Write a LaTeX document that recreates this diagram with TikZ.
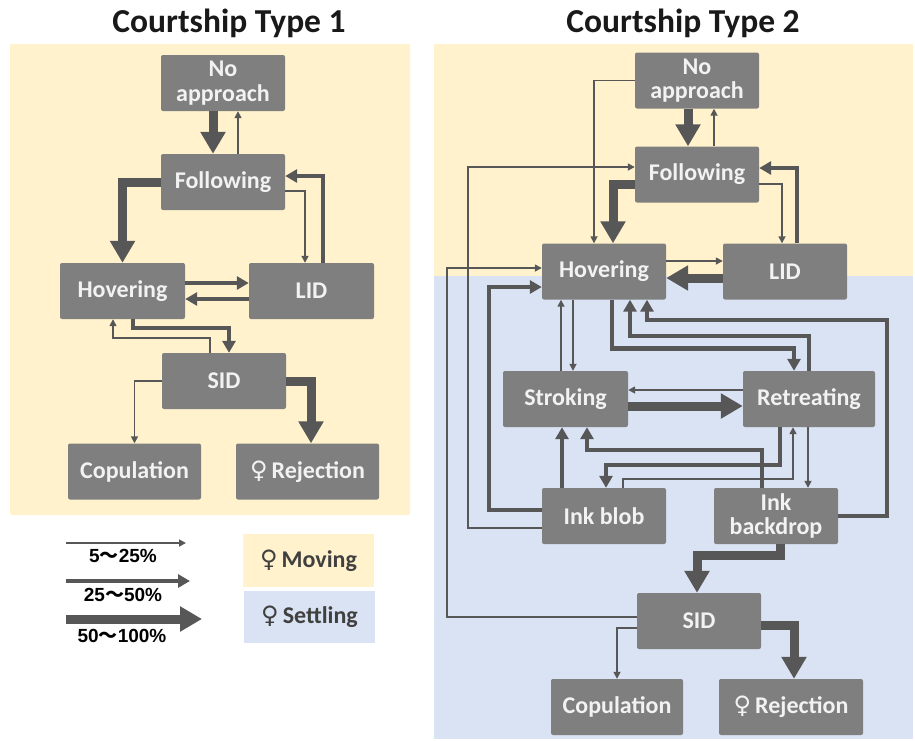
\documentclass[tikz,border=0pt]{standalone}
\usepackage{fontspec}
\setmainfont{Carlito}
\newfontfamily\venusfont{DejaVu Sans}
\newfontfamily\numfont{Liberation Sans}
\newfontfamily\cjkfont{Noto Sans CJK SC}
\usetikzlibrary{arrows.meta,positioning}
\definecolor{boxgray}{HTML}{7F7F7F}
\definecolor{boxtext}{HTML}{F2F2F2}
\definecolor{arrgray}{HTML}{575757}
\definecolor{movebg}{HTML}{FFF2CC}
\definecolor{settlebg}{HTML}{DAE3F3}
\newcommand{\fem}{{\venusfont\mdseries\char"2640}}

\begin{document}
\begin{tikzpicture}[x=1pt,y=-1pt,
    beh/.style={rectangle,rounded corners=2pt,fill=boxgray,text=boxtext,
      minimum width=124pt,minimum height=56pt,inner sep=0pt,align=center,
      font=\fontsize{24}{24.5}\selectfont\bfseries},
    thinarr/.style={draw=arrgray,line width=1.6pt,-{Triangle[width=7pt,length=7pt]}},
    medarr/.style={draw=arrgray,line width=4.5pt,-{Triangle[width=13pt,length=12pt]}},
    thickarr/.style={draw=arrgray,line width=9pt,-{Triangle[width=24pt,length=22pt]}},
    title/.style={anchor=base,text=black!90,font=\fontsize{33.5}{33.5}\selectfont\bfseries},
    keytxt/.style={text=black,font=\numfont\fontsize{19}{19}\selectfont\bfseries},
    keybox/.style={rectangle,minimum width=131pt,minimum height=53pt,inner sep=0pt,
      text=black!75,font=\fontsize{24}{24}\selectfont\bfseries}]

    \fill[white] (0,0) rectangle (915,740);
    \useasboundingbox (0,0) rectangle (915,740);

    \node[title] (tA) at (229,32) {Courtship Type 1};
    \node[title] (tB) at (683,32) {Courtship Type 2};

    \fill[movebg,rounded corners=2pt] (10,44) rectangle (410,515);
    \fill[movebg] (434,44) rectangle (913,276);
    \fill[settlebg] (434,276) rectangle (913,739);

    \node[beh] (noappA) at (223,83) {No\\approach};
    \node[beh] (follA) at (223,182) {Following};
    \node[beh,minimum width=125pt] (hovA) at (122.5,291) {Hovering};
    \node[beh,minimum width=125pt] (lidA) at (311.5,291) {LID};
    \node[beh] (sidA) at (224,381) {SID};
    \node[beh,minimum width=133pt] (copA) at (134.5,471.5) {Copulation};
    \node[beh,minimum width=143pt] (rejA) at (307.5,471.5) {\fem\,Rejection};

    \draw[thickarr] ([xshift=-10pt]noappA.south) -- ([xshift=-10pt]follA.north);
    \draw[thinarr] ([xshift=15pt]follA.north) -- ([xshift=15pt]noappA.south);
    \draw[thickarr] (follA.west) -| (hovA.north);
    \draw[thinarr] ([yshift=-9pt]follA.east) -| ([xshift=-6.5pt]lidA.north);
    \draw[medarr] ([xshift=11.5pt]lidA.north) |- ([yshift=6pt]follA.east);
    \draw[medarr] ([yshift=8pt]hovA.east) -- ([yshift=8pt]lidA.west);
    \draw[medarr] ([yshift=-8pt]lidA.west) -- ([yshift=-8pt]hovA.east);
    \draw[medarr] ([xshift=10.5pt]hovA.south) -- ++(0,9) -| ([xshift=5pt]sidA.north);
    \draw[thinarr] ([xshift=-14pt]sidA.north) -- ++(0,-15) -| ([xshift=-9.5pt]hovA.south);
    \draw[thinarr] (sidA.west) -| (copA.north);
    \draw[thickarr] (sidA.east) -| ([xshift=3.5pt]rejA.north);

    \node[beh] (noappB) at (697,80.5) {No\\approach};
    \node[beh] (follB) at (697,174.5) {Following};
    \node[beh] (hovB) at (604,271.5) {Hovering};
    \node[beh] (lidB) at (785,271.5) {LID};
    \node[beh,minimum width=125pt] (strB) at (565.5,399) {Stroking};
    \node[beh,minimum width=132pt] (retB) at (809,399) {Retreating};
    \node[beh] (blobB) at (604,516) {Ink blob};
    \node[beh] (backB) at (776,516) {Ink\\backdrop};
    \node[beh] (sidB) at (699,621) {SID};
    \node[beh,minimum width=132pt] (copB) at (617,707) {Copulation};
    \node[beh,minimum width=144pt] (rejB) at (791,707) {\fem\,Rejection};

    \draw[thickarr] ([xshift=-9pt]noappB.south) -- ([xshift=-9pt]follB.north);
    \draw[thinarr] ([xshift=17pt]follB.north) -- ([xshift=17pt]noappB.south);
    \draw[thinarr] (noappB.west) -| ([xshift=-10pt]hovB.north);
    \draw[thickarr] ([yshift=-9.5pt]follB.west) -| ([xshift=9pt]hovB.north);
    \draw[thinarr] ([yshift=-9.5pt]follB.east) -| ([xshift=-3pt]lidB.north);
    \draw[medarr] ([xshift=12pt]lidB.north) |- ([yshift=6.5pt]follB.east);
    \draw[thinarr] ([yshift=10.5pt]hovB.east) -- ([yshift=10.5pt]lidB.west);
    \draw[thickarr] ([yshift=-6.5pt]lidB.west) -- ([yshift=-6.5pt]hovB.east);
    \draw[thinarr] ([yshift=-12pt]blobB.west) -- ++(-74,0) |- ([yshift=7.5pt]follB.west);
    \draw[thinarr] ([yshift=4pt]sidB.west) -- ++(-190,0) |- ([yshift=3.5pt]hovB.west);
    \draw[medarr] ([yshift=6pt]blobB.west) -- ++(-53,0) |- ([yshift=-15.5pt]hovB.west);
    \draw[thinarr] ([xshift=-31pt]hovB.south) -- ([xshift=7.5pt]strB.north);
    \draw[thinarr] ([xshift=-4.5pt]strB.north) -- ([xshift=-43pt]hovB.south);
    \draw[medarr] ([xshift=8pt]hovB.south) -- ++(0,49) -| ([xshift=-15pt]retB.north);
    \draw[medarr] (retB.north) -- ++(0,-35) -| ([xshift=26pt]hovB.south);
    \draw[medarr] (backB.east) -- ++(49,0) -- ++(0,-196) -| ([xshift=43pt]hovB.south);
    \draw[thinarr] ([yshift=9pt]retB.west) -- ([yshift=9pt]strB.east);
    \draw[thickarr] ([yshift=-7pt]strB.east) -- ([yshift=-7pt]retB.west);
    \draw[medarr] ([xshift=-42pt]blobB.north) -- ([xshift=-3.5pt]strB.south);
    \draw[medarr] ([xshift=-14pt]backB.north) -- ++(0,-38) -| ([xshift=21.5pt]strB.south);
    \draw[medarr] ([xshift=-29pt]retB.south) -- ++(0,38) -| ([xshift=2pt]blobB.north);
    \draw[thinarr] ([xshift=19pt]blobB.north) -- ++(0,-9) -| ([xshift=-16pt]retB.south);
    \draw[thinarr] ([xshift=-1pt]retB.south) -- ([xshift=32pt]backB.north);
    \draw[thickarr] ([xshift=4pt]backB.south) -- ++(0,11) -| ([xshift=-2pt]sidB.north);
    \draw[thinarr] ([yshift=-7pt]sidB.west) -| (copB.north);
    \draw[thickarr] ([yshift=-4pt]sidB.east) -| ([xshift=3pt]rejB.north);

    \coordinate (k1a) at (66,543);
    \coordinate (k1b) at (186,543);
    \coordinate (k2a) at (66,581);
    \coordinate (k2b) at (190,581);
    \coordinate (k3a) at (66,619);
    \coordinate (k3b) at (202,619);
    \draw[thinarr] (k1a) -- (k1b);
    \draw[medarr] (k2a) -- (k2b);
    \draw[thickarr] (k3a) -- (k3b);
    \node[keytxt] (k1) at (123,556) {5{\cjkfont ～}25\%};
    \node[keytxt] (k2) at (123,595) {25{\cjkfont ～}50\%};
    \node[keytxt] (k3) at (122,636) {50{\cjkfont ～}100\%};

    \node[keybox,fill=movebg] (mov) at (308.5,560.5) {\fem\,Moving};
    \node[keybox,fill=settlebg,minimum height=52pt] (set) at (309.5,617) {\fem\,Settling};
  \end{tikzpicture}
\end{document}
